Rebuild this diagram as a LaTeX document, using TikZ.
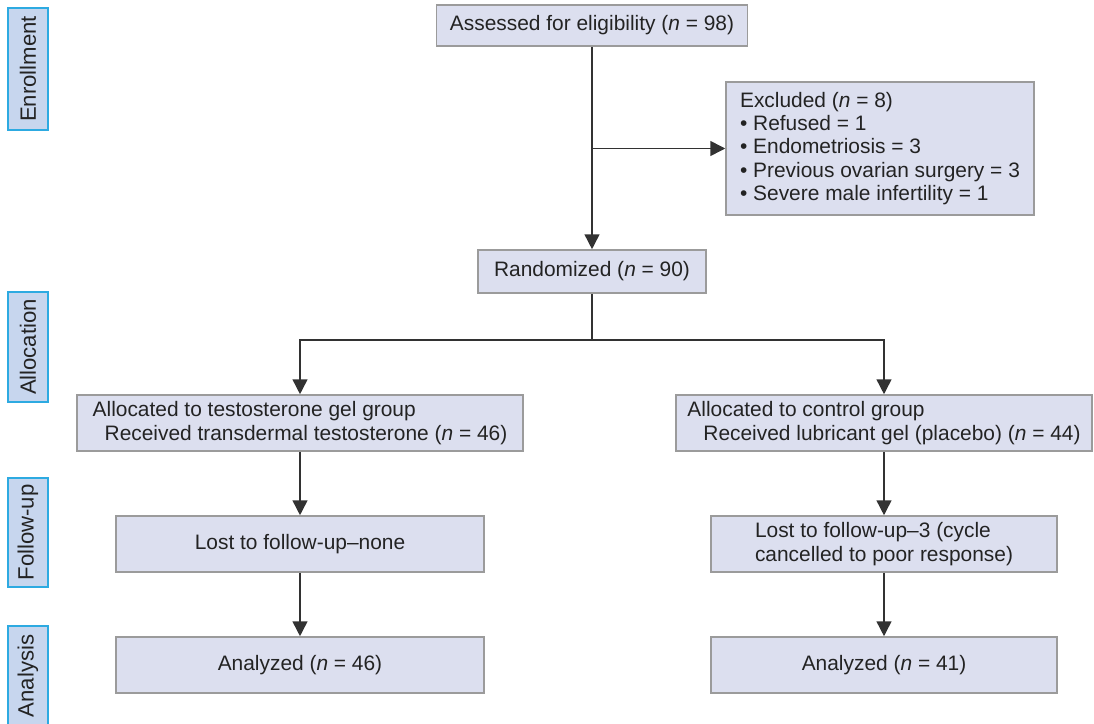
\documentclass[tikz,border=0pt]{standalone}
\usepackage{fontspec}
\setmainfont{Liberation Sans}
\usetikzlibrary{arrows.meta}
\usetikzlibrary{positioning}
\definecolor{boxfill}{RGB}{220,223,239}
\definecolor{boxdraw}{RGB}{155,155,155}
\definecolor{phasefill}{RGB}{199,214,238}
\definecolor{phasedraw}{RGB}{45,170,225}
\definecolor{linegray}{RGB}{50,50,50}
\definecolor{textgray}{RGB}{35,35,35}

\begin{document}
\begin{tikzpicture}[%
x=0.02cm, y=-0.02cm, >={Triangle[length=8.5pt,width=8.5pt]},
font=\fontsize{11.9}{13.3}\selectfont, text=textgray,
box/.style={draw=boxdraw, fill=boxfill, line width=0.9pt, align=left, inner sep=0pt},
phase/.style={draw=phasedraw, fill=phasefill, line width=0.9pt, rotate=90, minimum height=0.8cm, inner sep=0pt, font=\fontsize{12.6}{14}\selectfont},
link/.style={draw=linegray, line width=0.9pt}
]
\useasboundingbox (0,0) rectangle (1094,723);
\node[phase, minimum width=2.44cm] (enrol) at (28,69) {Enrollment};
\node[phase, minimum width=2.2cm] (alloc) at (28,347) {Allocation};
\node[phase, minimum width=2.18cm] (follow) at (28,532.5) {Follow-up};
\node[phase, minimum width=2.0cm] (analysis) at (28,676) {Analysis};
\node[box, minimum width=6.22cm, minimum height=0.82cm] (assess) at (592,25.5) {Assessed for eligibility (\textit{n} = 98)};
\node[box, minimum width=6.16cm, minimum height=2.66cm] (excl) at (880,148.5) {Excluded (\textit{n} = 8)\\
\textbullet\ Refused = 1\\
\textbullet\ Endometriosis = 3\\
\textbullet\ Previous ovarian surgery = 3\\
\textbullet\ Severe male infertility = 1};
\node[box, minimum width=4.56cm, minimum height=0.86cm] (rand) at (592,271.5) {Randomized (\textit{n} = 90)};
\node[box, minimum width=8.92cm, minimum height=1.12cm] (allocT) at (300,423) {Allocated to testosterone gel group\\
\hspace*{0.24cm}Received transdermal testosterone (\textit{n} = 46)};
\node[box, minimum width=8.32cm, minimum height=1.12cm] (allocC) at (884,423) {Allocated to control group\\
\hspace*{0.32cm}Received lubricant gel (placebo) (\textit{n} = 44)};
\node[box, minimum width=7.36cm, minimum height=1.12cm] (lostT) at (300,544) {Lost to follow-up–none};
\node[box, minimum width=6.92cm, minimum height=1.12cm] (lostC) at (884,544) {Lost to follow-up–3 (cycle\\cancelled to poor response)};
\node[box, minimum width=7.36cm, minimum height=1.12cm] (anaT) at (300,665) {Analyzed (\textit{n} = 46)};
\node[box, minimum width=6.92cm, minimum height=1.12cm] (anaC) at (884,665) {Analyzed (\textit{n} = 41)};
\coordinate (split) at (assess.south |- excl.west);
\coordinate (fork) at (592,340);
\draw[link,->] (assess) -- (rand);
\draw[link,->] (split) -- (excl);
\draw[link] (rand) -- (fork);
\draw[link,->] (fork) -| (allocT);
\draw[link,->] (fork) -| (allocC);
\draw[link,->] (allocT) -- (lostT);
\draw[link,->] (allocC) -- (lostC);
\draw[link,->] (lostT) -- (anaT);
\draw[link,->] (lostC) -- (anaC);
\end{tikzpicture}
\end{document}
